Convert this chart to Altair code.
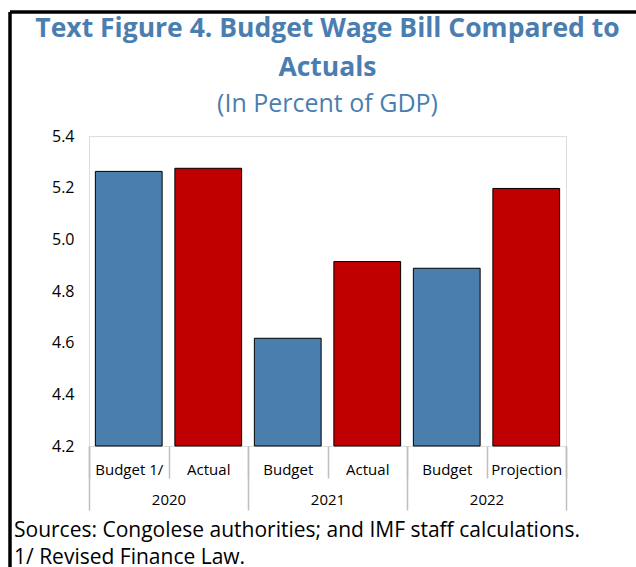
import altair as alt
import pandas as pd

# ---- data ----
years = ["2020", "2020", "2021", "2021", "2022", "2022"]
labels = ["Budget 1/", "Actual", "Budget", "Actual", "Budget", "Projection"]
series = ["Budget", "Actual", "Budget", "Actual", "Budget", "Actual"]
values = [5.263, 5.275, 4.617, 4.914, 4.888, 5.197]
y_ticks = [4.2, 4.4, 4.6, 4.8, 5.0, 5.2, 5.4]
title_lines = ["Text Figure 4. Budget Wage Bill Compared to", "Actuals"]
subtitle = "(In Percent of GDP)"
notes = ["Sources: Congolese authorities; and IMF staff calculations.",
         "1/ Revised  Finance Law."]

FONT = "Open Sans"
BLUE = "#4A7EAC"
RED = "#C00000"
TBLUE = "#4A7EB0"
GRAY = "#BFBFBF"

df = pd.DataFrame({"year": years, "label": labels, "series": series, "value": values})
df["key"] = df["year"] + "|" + df["label"]
keys = list(df["key"])

W, H = 477, 310

bars = alt.Chart(df).mark_bar(
    width=alt.RelativeBandSize(0.84), stroke="black", strokeWidth=1
).encode(
    x=alt.X("key:N", sort=keys,
            scale=alt.Scale(paddingInner=0, paddingOuter=0),
            axis=alt.Axis(orient="bottom", title=None,
                          labelExpr="split(datum.value, '|')[1]",
                          tickBand="extent", tickSize=32, labelPadding=-16,
                          labelAngle=0, domain=False, tickColor=GRAY, tickWidth=1.5,
                          labelFontSize=15, labelColor="black", labelFont=FONT)),
    y=alt.Y("value:Q",
            scale=alt.Scale(domain=[y_ticks[0], y_ticks[-1]], nice=False, zero=False),
            axis=alt.Axis(values=y_ticks, format=".1f", title=None, ticks=False,
                          domain=False, grid=False, labelPadding=15,
                          labelFontSize=16, labelColor="black", labelFont=FONT)),
    y2=alt.datum(y_ticks[0]),
    color=alt.Color("series:N", scale=alt.Scale(domain=["Budget", "Actual"], range=[BLUE, RED]),
                    legend=None),
)

year_layer = alt.Chart(df).mark_rule(opacity=0).encode(
    x=alt.X("year:N",
            scale=alt.Scale(paddingInner=0, paddingOuter=0),
            axis=alt.Axis(orient="bottom", title=None, tickBand="extent", tickSize=64,
                          labelPadding=-18, labelAngle=0, domain=False,
                          tickColor=GRAY, tickWidth=1.5,
                          labelFontSize=15, labelColor="black", labelFont=FONT)),
)


def text_line(t, y, size, weight="normal", color="black", align="left", x=-75):
    return alt.Chart(pd.DataFrame({"t": [t]})).mark_text(
        align=align, baseline="alphabetic", fontSize=size, font=FONT,
        fontWeight=weight, color=color
    ).encode(text="t:N", x=alt.value(x), y=alt.value(y))


t1 = text_line(title_lines[0], -99, 26.5, "bold", TBLUE, "center", W / 2)
t2 = text_line(title_lines[1], -60, 26.5, "bold", TBLUE, "center", W / 2)
t3 = text_line(subtitle, -24, 25, "normal", TBLUE, "center", W / 2)
note1 = text_line(notes[0], H + 91, 21)
note2 = text_line(notes[1], H + 118, 21)

frame_top = alt.Chart(pd.DataFrame({"a": [0]})).mark_rule(color="black", strokeWidth=3.5).encode(
    x=alt.value(-79), x2=alt.value(W + 80), y=alt.value(-124))
frame_left = alt.Chart(pd.DataFrame({"a": [0]})).mark_rule(color="black", strokeWidth=3.5).encode(
    x=alt.value(-79), y=alt.value(-124), y2=alt.value(H + 140))

chart = alt.layer(bars, year_layer, t1, t2, t3, note1, note2, frame_top, frame_left).resolve_scale(
    x="independent"
).resolve_axis(x="independent").properties(
    width=W, height=H,
    autosize=alt.AutoSizeParams(type="none"),
    padding={"left": 89, "top": 136, "right": 70, "bottom": 121},
).configure_view(stroke="#D4D4D4", strokeWidth=2).configure(background="white")

chart.save("out.html", embed_options={"renderer": "svg", "actions": False})
